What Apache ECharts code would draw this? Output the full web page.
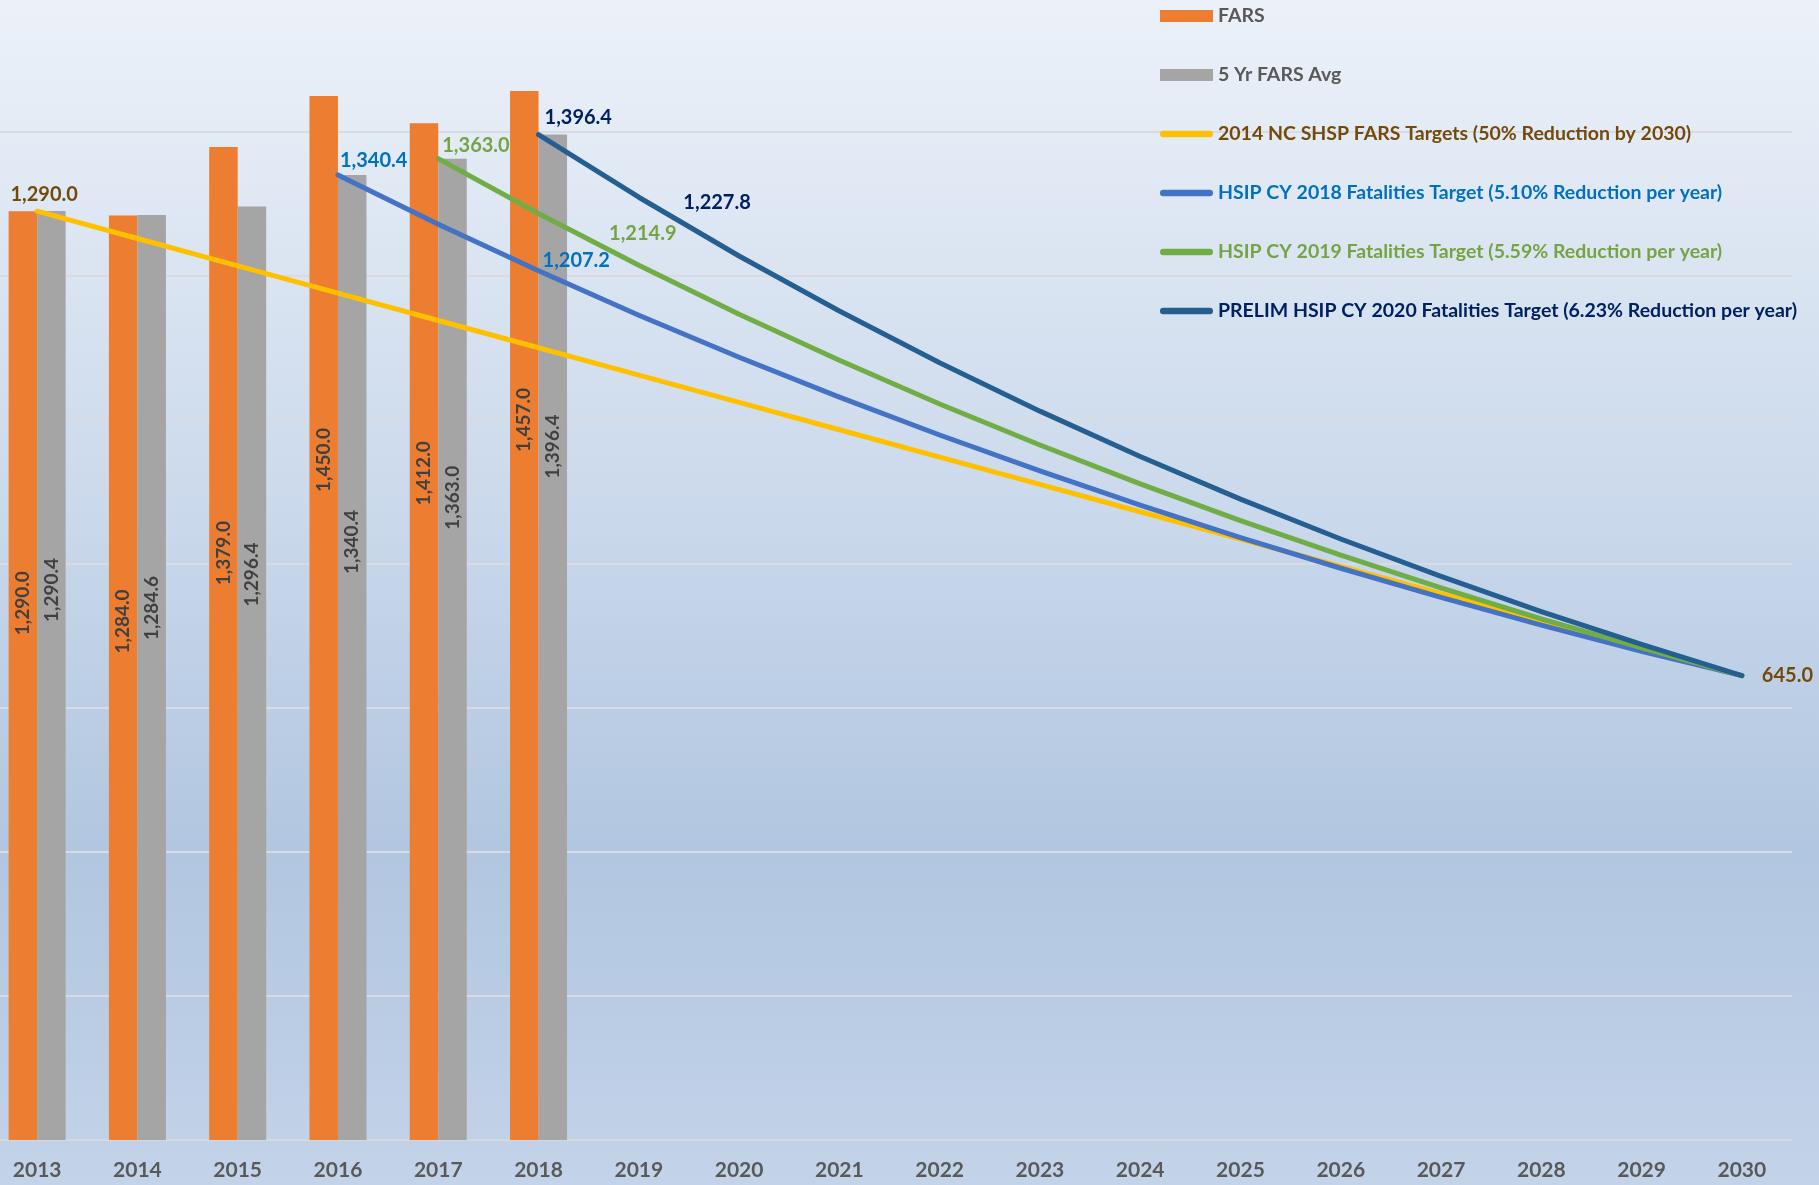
<!DOCTYPE html>
<html>
<head>
<meta charset="utf-8">
<script src="https://cdn.jsdelivr.net/npm/echarts@6/dist/echarts.min.js"></script>
<style>
  html, body { margin: 0; padding: 0; overflow: hidden; }
  /* plot area starts a little off-canvas, as in the original export */
  #main { width: 1832px; height: 1197px; margin-left: -13px; margin-top: -12px; }
</style>
</head>
<body>
<div id="main"></div>
<script>
var years = ['2013', '2014', '2015', '2016', '2017', '2018', '2019', '2020', '2021',
    '2022', '2023', '2024', '2025', '2026', '2027', '2028', '2029', '2030'];
var fars = [1290.0, 1284.0, 1379.0, 1450.0, 1412.0, 1457.0];
var farsAvg = [1290.4, 1284.6, 1296.4, 1340.4, 1363.0, 1396.4];
// 2014 NC SHSP targets, 50% reduction by 2030
var shspTargets = [1290.0, 1252.1, 1214.1, 1176.2, 1138.2, 1100.3, 1062.4, 1024.4, 986.5,
    948.5, 910.6, 872.6, 834.7, 796.8, 758.8, 720.9, 682.9, 645.0];
var hsip2018 = [null, null, null, 1340.4, 1272.0, 1207.2, 1145.6, 1087.2, 1031.8,
    979.2, 929.2, 881.8, 836.8, 794.1, 753.6, 715.2, 678.7, 645.0];
var hsip2019 = [null, null, null, null, 1363.0, 1286.8, 1214.9, 1147.0, 1082.9,
    1022.3, 965.2, 911.2, 860.3, 812.2, 766.8, 723.9, 683.4, 645.0];
var hsip2020 = [null, null, null, null, null, 1396.4, 1309.4, 1227.8, 1151.3,
    1079.6, 1012.3, 949.3, 890.1, 834.7, 782.7, 733.9, 688.2, 645.0];

// where the rotated bar labels sit, px down from each bar's top
var farsLabelY = [392, 406, 406, 364, 350, 329];
var avgLabelY = [379, 393, 368, 367, 339, 312];

var FONT = 'Lato';
var lineIcon = 'path://M3,0 L47,0 A3,3 0 0,1 47,6 L3,6 A3,3 0 0,1 3,0 Z';

function fmt(v) {
    return Number(v).toLocaleString('en-US', { minimumFractionDigits: 1, maximumFractionDigits: 1 });
}

function barData(values, labelY) {
    return values.map(function (v, i) {
        return { value: v, label: { position: ['50%', labelY[i]] } };
    });
}

// build line data, switching on labels for a few points
function lineData(values, labels, color) {
    return values.map(function (v, i) {
        if (labels[i]) {
            var l = labels[i];
            return {
                value: v,
                label: {
                    show: true,
                    position: l.position,
                    align: l.align,
                    distance: l.distance,
                    offset: l.offset || [0, 0],
                    color: color,
                    fontFamily: FONT,
                    fontWeight: 'bold',
                    fontSize: 20,
                    formatter: function (p) { return fmt(p.value); }
                }
            };
        }
        return v;
    });
}

function lineSeries(name, values, lineColor, textColor, labels) {
    return {
        name: name,
        type: 'line',
        data: lineData(values, labels, textColor),
        showSymbol: true,
        showAllSymbol: true,
        symbol: 'circle',
        symbolSize: 0.01,
        z: 5,
        lineStyle: { color: lineColor, width: 5, cap: 'round', join: 'round' },
        itemStyle: { color: lineColor },
        label: { show: false }
    };
}

var barLabel = {
    show: true,
    rotate: 90,
    align: 'center',
    verticalAlign: 'middle',
    color: '#404040',
    fontFamily: FONT,
    fontWeight: 'bold',
    fontSize: 19,
    formatter: function (p) { return fmt(p.value); }
};

var chartDom = document.getElementById('main');
var myChart = echarts.init(chartDom);
var option;

option = {
    backgroundColor: {
        type: 'linear', x: 0, y: 0, x2: 0, y2: 1,
        colorStops: [
            { offset: 0, color: '#edf2f9' },
            { offset: 0.45, color: '#c9d8eb' },
            { offset: 0.72, color: '#b1c6e0' },
            { offset: 1, color: '#c3d3e9' }
        ]
    },
    animation: false,
    grid: {
        left: 0,
        right: 27,
        top: 0,
        bottom: 45
    },
    legend: {
        orient: 'vertical',
        left: 1168,
        top: 13,
        itemWidth: 53,
        itemHeight: 12,
        itemGap: 39,
        textStyle: { fontFamily: FONT, fontWeight: 'bold', fontSize: 19.5, lineHeight: 20 },
        data: [
            { name: 'FARS', icon: 'rect', textStyle: { color: '#595959' } },
            { name: '5 Yr FARS Avg', icon: 'rect', textStyle: { color: '#595959' } },
            { name: '2014 NC SHSP FARS Targets (50% Reduction by 2030)', icon: lineIcon, textStyle: { color: '#744a0b' } },
            { name: 'HSIP CY 2018 Fatalities Target (5.10% Reduction per year)', icon: lineIcon, textStyle: { color: '#0070c0' } },
            { name: 'HSIP CY 2019 Fatalities Target (5.59% Reduction per year)', icon: lineIcon, textStyle: { color: '#76a344' } },
            { name: 'PRELIM HSIP CY 2020 Fatalities Target (6.23% Reduction per year)', icon: lineIcon, textStyle: { color: '#002060' } }
        ]
    },
    xAxis: {
        type: 'category',
        data: years,
        axisTick: { show: false },
        axisLine: { lineStyle: { color: '#d4d8de', width: 2 } },
        axisLabel: {
            color: '#595959',
            fontFamily: FONT,
            fontWeight: 'bold',
            fontSize: 21,
            margin: 20
        }
    },
    yAxis: {
        type: 'value',
        min: 0,
        max: 1600,
        interval: 200,
        axisLabel: { show: false },
        axisLine: { show: false },
        axisTick: { show: false },
        splitLine: { lineStyle: { color: '#d9dbe0', width: 2 } }
    },
    series: [
        {
            name: 'FARS',
            type: 'bar',
            data: barData(fars, farsLabelY),
            barWidth: 28.5,
            barGap: '0%',
            itemStyle: { color: '#ed7d31' },
            label: barLabel
        },
        {
            name: '5 Yr FARS Avg',
            type: 'bar',
            data: barData(farsAvg, avgLabelY),
            barWidth: 28.5,
            barGap: '0%',
            itemStyle: { color: '#a5a5a5' },
            label: barLabel
        },
        lineSeries('2014 NC SHSP FARS Targets (50% Reduction by 2030)', shspTargets, '#ffc000', '#744a0b', {
            0: { position: 'top', distance: 7, offset: [7, 0] },
            17: { position: 'right', distance: 20 }
        }),
        lineSeries('HSIP CY 2018 Fatalities Target (5.10% Reduction per year)', hsip2018, '#4472c4', '#0070c0', {
            3: { position: 'top', align: 'left', distance: 4, offset: [2, 0] },
            5: { position: 'right', distance: 4, offset: [0, -10] }
        }),
        lineSeries('HSIP CY 2019 Fatalities Target (5.59% Reduction per year)', hsip2019, '#70ad47', '#76a344', {
            4: { position: 'top', align: 'left', distance: 3, offset: [4, 0] },
            6: { position: 'top', distance: 22, offset: [4, 0] }
        }),
        lineSeries('PRELIM HSIP CY 2020 Fatalities Target (6.23% Reduction per year)', hsip2020, '#255e91', '#002060', {
            5: { position: 'top', align: 'left', distance: 7, offset: [6, 0] },
            7: { position: 'top', distance: 43, offset: [-22, 0] }
        })
    ]
};

option && myChart.setOption(option);
</script>
</body>
</html>
